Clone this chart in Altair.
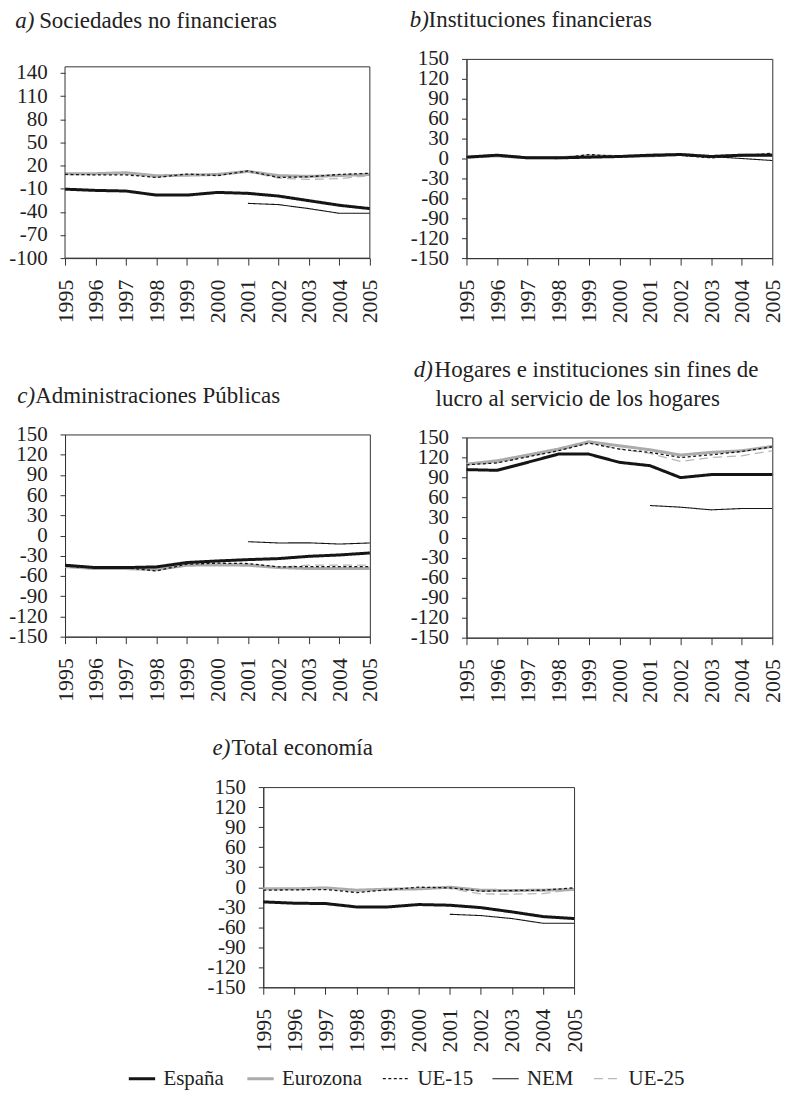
import altair as alt
import pandas as pd

SERIF = "Liberation Serif, Times New Roman, serif"

years = list(range(1995, 2006))
series = ["España", "Eurozona", "UE-15", "NEM", "UE-25"]
draw_order = ["Eurozona", "UE-25", "UE-15", "NEM", "España"]
colors = ["#151515", "#ababab", "#151515", "#151515", "#b8b8b8"]
dashes = [[1, 0], [1, 0], [3, 2.5], [1, 0], [9, 5]]

N = None
# a) Sociedades no financieras
a_vals = {
    "España":   [-10.6, -12.2, -13, -18.3, -18.3, -14.8, -16, -19.5, -25.5, -31.5, -35.8],
    "Eurozona": [9.4, 9.5, 10.7, 6.8, 7.5, 8.5, 12.4, 7, 6, 7, 8.5],
    "UE-15":    [8.5, 8, 8, 4.6, 9, 7, 13, 4.6, 5.5, 8.5, 10],
    "NEM":      [N, N, N, N, N, N, -29, -30.6, -35.8, -41.9, -41.9],
    "UE-25":    [8.5, 8.5, 9, 5, 7.5, 7.5, 12, 3.7, 2.1, 3, 7],
}
# b) Instituciones financieras
b_vals = {
    "España":   [2, 5, 1, 1, 2, 3, 5, 6, 3, 5, 5],
    "Eurozona": [2, 4, 1, 1, 4, 3, 4, 6, 3, 5, 6],
    "UE-15":    [2, 6, 1, 0, 6, 3, 4, 5, 1, 4, 8],
    "NEM":      [N, N, N, N, N, N, 4, 5, 3, 0, -3],
    "UE-25":    [2, 5, 1, 0, 5, 3, 4, 5, 2, 4, 6],
}
# c) Administraciones Públicas
c_vals = {
    "España":   [-44, -47.5, -47.5, -46.5, -40, -37.7, -35.7, -34.2, -30.8, -28.8, -25.8],
    "Eurozona": [-46, -49, -49, -50.5, -44, -43.5, -44, -47.5, -49, -49, -49],
    "UE-15":    [-45.5, -48, -48, -52.4, -42.5, -41, -41.5, -46.5, -46, -46, -46],
    "NEM":      [N, N, N, N, N, N, -9.1, -11, -10.8, -12.6, -11],
    "UE-25":    [-46, -49, -49, -52, -43, -42, -42, -47, -44, -44, -44],
}
# d) Hogares e ISFLSH
d_vals = {
    "España":   [101.8, 100.7, 112.7, 125, 125, 112.7, 107.7, 89.8, 94.3, 94.3, 94.3],
    "Eurozona": [110, 115, 123.6, 132.5, 143.5, 137.5, 131.5, 123.6, 127.6, 130, 136.5],
    "UE-15":    [109, 111.8, 121, 130, 141.5, 132.5, 127.6, 120, 124, 129, 136],
    "NEM":      [N, N, N, N, N, N, 48, 45.5, 41.5, 43.5, 43.5],
    "UE-25":    [109, 112, 121, 130, 142, 133, 126, 114, 120, 122.5, 130],
}
# e) Total economía
e_vals = {
    "España":   [-22, -24, -24.5, -29.6, -29.6, -26, -27, -30.6, -37, -44, -47],
    "Eurozona": [-2.2, -2.5, -1, -4.5, -3, -2.5, 0, -4.5, -5, -4.5, -3.5],
    "UE-15":    [-4.5, -4, -3.5, -8, -4, 0, -1, -6, -5, -4.5, -1],
    "NEM":      [N, N, N, N, N, N, -40.6, -42.5, -47, -54, -54],
    "UE-25":    [-3, -3, -2, -6, -3, -1, -2, -10, -10.5, -9.5, -3.5],
}

ticks_a = [140, 110, 80, 50, 20, -10, -40, -70, -100]
ticks_std = [150, 120, 90, 60, 30, 0, -30, -60, -90, -120, -150]
a_frame = [-100, 148]          # box drawn around panel a
a_domain = [-100, 158.3]       # scale extent of panel a

WIDTH_EXPR = ("datum.serie == 'España' || datum.serie == 'Eurozona' ? 3 : "
              "(datum.serie == 'NEM' ? 1.1 : 1.3)")
LEG_WIDTH = ("datum.value == 'España' || datum.value == 'Eurozona' ? 3 : "
             "(datum.value == 'NEM' ? 1.1 : 1.3)")


def long_df(vals):
    rows = []
    for s in draw_order:
        for yr, v in zip(years, vals[s]):
            if v is not None:
                rows.append({"year": yr, "value": v, "serie": s})
    return pd.DataFrame(rows)


def text_layer(txt, x, y, italic=False):
    return alt.Chart(pd.DataFrame({"t": [txt]})).mark_text(
        align="left", baseline="alphabetic", font=SERIF, fontSize=23,
        fontStyle="italic" if italic else "normal", color="#222"
    ).encode(x=alt.value(x), y=alt.value(y), text="t:N")


def panel(vals, domain, ticks, w, h, titles, frame=None):
    x_axis = alt.Axis(values=years, format="d", labelAngle=270, labelAlign="right",
                      labelBaseline="middle", labelPadding=14, labelFlush=False,
                      labelOverlap=False, title=None, tickSize=7,
                      labelFont=SERIF, labelFontSize=22)
    y_axis = alt.Axis(values=ticks, labelOverlap=False, labelFlush=False,
                      labelExpr="'' + datum.value", domain=frame is None,
                      labelPadding=13, title=None, tickSize=5,
                      labelFont=SERIF, labelFontSize=21)
    x_scale = alt.Scale(domain=[years[0], years[-1]], nice=False, zero=False)
    y_scale = alt.Scale(domain=domain, nice=False, zero=False)

    lines = alt.Chart(long_df(vals)).transform_calculate(
        sw=WIDTH_EXPR
    ).mark_line(strokeCap="butt", strokeJoin="round").encode(
        x=alt.X("year:Q", scale=x_scale, axis=x_axis),
        y=alt.Y("value:Q", scale=y_scale, axis=y_axis),
        color=alt.Color("serie:N", scale=alt.Scale(domain=series, range=colors),
                        legend=alt.Legend(title=None,
                                          symbolStrokeWidth=alt.ExprRef(LEG_WIDTH))),
        strokeDash=alt.StrokeDash("serie:N", scale=alt.Scale(domain=series, range=dashes),
                                  legend=alt.Legend(title=None,
                                                    symbolStrokeWidth=alt.ExprRef(LEG_WIDTH))),
        strokeWidth=alt.StrokeWidth("sw:Q", scale=None, legend=None),
    )
    layers = [lines]
    if frame is not None:
        box = alt.Chart(pd.DataFrame({"year": [years[0]], "year2": [years[-1]],
                                      "value": [frame[0]], "value2": [frame[1]]})).mark_rect(
            fillOpacity=0, stroke="#333", strokeWidth=1
        ).encode(x=alt.X("year:Q", scale=x_scale, axis=x_axis), x2="year2:Q",
                 y=alt.Y("value:Q", scale=y_scale, axis=y_axis), y2="value2:Q")
        layers.append(box)
    layers += [text_layer(*t) for t in titles]
    ch = alt.layer(*layers).properties(width=w, height=h)
    if frame is not None:
        ch = ch.properties(view=alt.ViewBackground(stroke=None))
    return ch


pa = panel(a_vals, a_domain, ticks_a, 306, 200,
           [("a)", -50, -31, True), ("Sociedades no financieras", -26, -31)], frame=a_frame)
pb = panel(b_vals, [-150, 150], ticks_std, 307, 200,
           [("b)", -57, -32, True), ("Instituciones financieras", -38, -32)])
pc = panel(c_vals, [-150, 150], ticks_std, 306, 203,
           [("c)", -48, -32, True), ("Administraciones Públicas", -30, -32)])
pd_ = panel(d_vals, [-150, 150], ticks_std, 307, 201,
            [("d)", -53, -61, True), ("Hogares e instituciones sin fines de", -32, -61),
             ("lucro al servicio de los hogares", -31, -32)])
pe = panel(e_vals, [-150, 150], ticks_std, 312, 201,
           [("e)", -51, -32, True), ("Total economía", -32, -32)])

col1 = alt.vconcat(pa, pc, spacing=61)
col2 = alt.vconcat(pb, pd_, spacing=34)
grid = alt.hconcat(col1, col2, spacing=27)
chart = alt.vconcat(grid, pe, spacing=33, center=True).resolve_scale(
    color="shared", strokeDash="shared"
).properties(
    padding={"left": 0, "top": -2, "right": 0, "bottom": 0}
).configure_view(
    stroke="#333", strokeWidth=1
).configure_axis(
    labelFont=SERIF, labelFontSize=21, labelColor="#222",
    domainColor="#333", tickColor="#333", grid=False
).configure_legend(
    orient="none", legendX=67, legendY=1013, direction="horizontal",
    symbolType="stroke", symbolSize=700, labelFont=SERIF, labelFontSize=21,
    labelColor="#222", columnPadding=17, symbolOffset=0, labelOffset=11
)

chart.save("out.html", embed_options={"renderer": "svg", "actions": False})
